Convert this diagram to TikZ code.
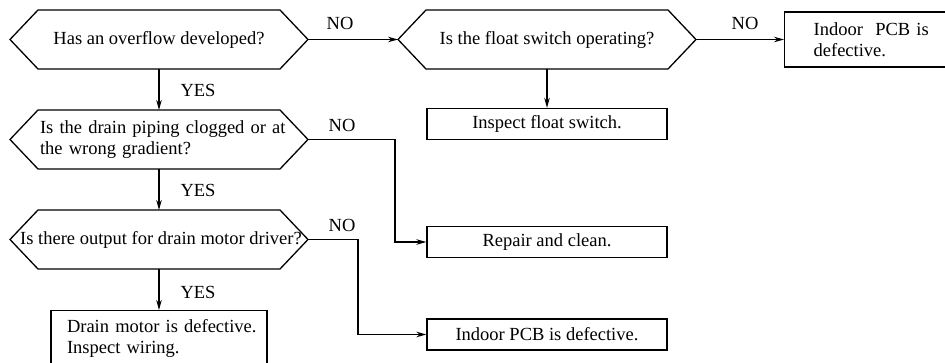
\documentclass[tikz,border=0pt]{standalone}
\usepackage{fontspec}
\setmainfont{Liberation Serif}
\usetikzlibrary{arrows.meta,calc}

% hexagon outline round a query node, with named tips
\newcommand{\hexframe}[2]{%
  \coordinate (#1-c) at ($(#1.center)+(#2,0)$);
  \coordinate (#1-n) at ($(#1-c)+(0,-29.5)$);
  \coordinate (#1-s) at ($(#1-c)+(0,29.5)$);
  \coordinate (#1-l) at ($(#1-c)+(-149,0)$);
  \coordinate (#1-r) at ($(#1-c)+(149,0)$);
  \draw[frame] ($(#1-c)+(-121,-29.5)$) -- ($(#1-c)+(121,-29.5)$) -- (#1-r)
    -- ($(#1-c)+(121,29.5)$) -- ($(#1-c)+(-121,29.5)$) -- (#1-l) -- cycle;}

\begin{document}
\begin{tikzpicture}[
  x=1pt, y=-1pt,
  font=\fontsize{18.5}{21}\selectfont,
  frame/.style={line width=1.3pt, line join=miter},
  query/.style={rectangle, inner sep=0pt, align=center},
  box/.style={draw, line width=1.3pt, rectangle, inner sep=0pt, minimum width=240pt, minimum height=31pt, align=center},
  arr/.style={-{Stealth[length=10pt,width=5.5pt]}, line width=1.3pt},
  lab/.style={inner sep=0pt}
]
\useasboundingbox (0,0) rectangle (945,363);
\clip (0,0) rectangle (945,363);

\node[query] (q1) at (159,39.5) {Has an overflow developed?};
\node[query] (q2) at (547,39.5) {Is the float switch operating?};
\node[query, text width=270pt, align=left] (q3) at (175,139.5) {Is the drain piping clogged or at\\the wrong gradient?};
\node[query] (q4) at (161,239.5) {Is there output for drain motor driver?};
\hexframe{q1}{0}
\hexframe{q2}{0}
\hexframe{q3}{-16}
\hexframe{q4}{-2}

\node[box, anchor=west, minimum width=0pt, text width=130pt, inner xsep=29pt, minimum height=55pt, align=left] (b1) at (784,39.5) {Indoor\ \ PCB is\\defective.};
\node[box] (b2) at (547,124) {Inspect float switch.};
\node[box] (b3) at (547,242) {Repair and clean.};
\node[box] (b4) at (547,334.5) {Indoor PCB is defective.};
\node[box, anchor=north, minimum width=0pt, text width=184pt, inner xsep=16pt, minimum height=56pt, align=left] (b5) at (159,310) {\mbox{Drain motor is defective.}\\Inspect wiring.};

\node[lab] (no1) at (340,23) {NO};
\node[lab] (no2) at (745,23) {NO};
\node[lab] (no3) at (342,125) {NO};
\node[lab] (no4) at (342,225) {NO};
\node[lab] (yes1) at (198,90) {YES};
\node[lab] (yes2) at (198,190) {YES};
\node[lab] (yes3) at (198,292) {YES};

\draw[arr] (q1-r) -- (q2-l);
\draw[arr] (q2-r) -- (b1.west);
\draw[arr] (q2-s) -- (b2.north);
\draw[arr] (q1-s) -- (q3-n);
\draw[arr] (q3-s) -- (q4-n);
\draw[arr] (q4-s) -- (b5.north);
\draw[arr] (q3-r) -- ++(87,0) |- (b3.west);
\draw[arr] (q4-r) -- ++(50,0) |- (b4.west);
\end{tikzpicture}
\end{document}
